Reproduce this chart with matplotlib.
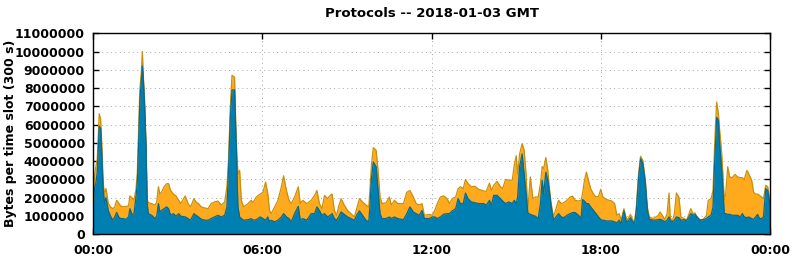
import matplotlib
matplotlib.use("Agg")
import matplotlib.pyplot as plt
from matplotlib.ticker import MultipleLocator, FuncFormatter

# time of day in hours, values in millions of bytes per 300 s slot
hours = [
    0.00, 0.05, 0.09, 0.14, 0.21, 0.26, 0.31, 0.35, 0.40, 0.45, 0.53, 0.61, 0.69, 0.76, 0.83, 0.90, 0.97,
    1.06, 1.16, 1.25, 1.30, 1.37, 1.44, 1.51, 1.56, 1.61, 1.65, 1.70, 1.74, 1.77, 1.82, 1.87, 1.91, 1.95,
    2.07, 2.19, 2.25, 2.31, 2.36, 2.42, 2.51, 2.60, 2.67, 2.74, 2.84, 2.93, 3.03, 3.10, 3.26, 3.36, 3.45,
    3.57, 3.64, 3.73, 3.83, 3.96, 4.07, 4.18, 4.30, 4.42, 4.54, 4.66, 4.74, 4.80, 4.86, 4.92, 5.01, 5.07,
    5.13, 5.19, 5.25, 5.33, 5.49, 5.60, 5.66, 5.78, 5.92, 6.02, 6.11, 6.19, 6.25, 6.31, 6.43, 6.55, 6.67,
    6.75, 6.85, 6.94, 7.02, 7.14, 7.27, 7.34, 7.43, 7.57, 7.73, 7.85, 7.93, 8.02, 8.11, 8.20, 8.31, 8.40,
    8.47, 8.55, 8.63, 8.70, 8.79, 8.90, 9.02, 9.14, 9.26, 9.34, 9.44, 9.55, 9.67, 9.77, 9.81, 9.86, 9.93,
    10.03, 10.10, 10.17, 10.24, 10.38, 10.50, 10.57, 10.68, 10.80, 11.00, 11.12, 11.23, 11.35, 11.45,
    11.56, 11.66, 11.74, 11.92, 12.02, 12.11, 12.20, 12.31, 12.43, 12.55, 12.63, 12.73, 12.85, 12.94,
    13.02, 13.12, 13.20, 13.29, 13.41, 13.53, 13.67, 13.85, 13.94, 14.05, 14.12, 14.20, 14.32, 14.44,
    14.52, 14.62, 14.74, 14.86, 14.93, 15.00, 15.05, 15.12, 15.21, 15.28, 15.35, 15.41, 15.50, 15.59,
    15.68, 15.78, 15.86, 15.92, 15.97, 16.05, 16.12, 16.17, 16.24, 16.32, 16.41, 16.50, 16.60, 16.69,
    16.80, 16.91, 17.00, 17.09, 17.21, 17.30, 17.35, 17.42, 17.49, 17.56, 17.64, 17.74, 17.83, 17.92,
    18.00, 18.07, 18.21, 18.39, 18.49, 18.57, 18.65, 18.72, 18.82, 18.89, 18.96, 19.05, 19.13, 19.20,
    19.26, 19.34, 19.41, 19.49, 19.58, 19.65, 19.72, 19.87, 20.04, 20.10, 20.18, 20.27, 20.35, 20.42,
    20.46, 20.53, 20.61, 20.68, 20.77, 20.84, 20.96, 21.04, 21.13, 21.19, 21.27, 21.34, 21.41, 21.52,
    21.63, 21.75, 21.81, 21.91, 21.98, 22.02, 22.07, 22.11, 22.17, 22.22, 22.28, 22.33, 22.38, 22.43,
    22.50, 22.57, 22.66, 22.76, 22.85, 22.95, 23.02, 23.09, 23.18, 23.25, 23.35, 23.42, 23.49, 23.56,
    23.63, 23.70, 23.77, 23.85, 23.92, 24.00,
]

# total of all protocols (top of the orange area)
total = [
    2.0, 3.3, 3.7, 4.1, 6.6, 6.3, 4.6, 2.8, 2.2, 2.5, 1.7, 1.5, 1.4, 1.5, 1.86, 1.7, 1.55,
    1.5, 1.53, 1.55, 2.1, 2.0, 1.86, 2.4, 3.3, 5.9, 7.9, 8.8, 10.0, 8.8, 7.3, 4.96, 1.9, 1.73,
    1.68, 1.6, 1.77, 2.6, 2.2, 2.3, 2.6, 2.77, 2.77, 2.4, 2.2, 2.1, 1.86, 1.68, 2.1, 1.68, 1.5,
    1.95, 1.77, 1.68, 1.5, 1.44, 1.4, 1.68, 1.77, 1.82, 1.6, 1.77, 2.6, 4.2, 7.0, 8.7, 8.6, 5.1,
    3.3, 3.5, 1.86, 1.5, 1.68, 1.86, 1.73, 2.04, 2.2, 2.3, 2.86, 2.2, 1.3, 1.13, 1.5, 1.86, 2.6,
    3.2, 2.4, 1.86, 1.68, 2.04, 2.6, 1.68, 1.86, 1.68, 1.86, 2.13, 2.4, 1.68, 1.4, 2.13, 1.95, 2.13,
    2.2, 1.3, 1.04, 1.5, 1.95, 1.6, 1.3, 1.13, 0.95, 1.4, 1.95, 1.77, 1.6, 1.5, 2.4, 3.7, 4.74,
    4.6, 3.5, 2.04, 1.68, 1.72, 2.04, 1.6, 1.86, 1.68, 1.68, 2.3, 2.4, 2.04, 1.68,
    1.6, 1.68, 1.04, 1.09, 1.04, 1.3, 1.68, 2.04, 2.1, 1.95, 1.68, 1.95, 2.04, 2.5,
    2.6, 2.5, 3.0, 2.77, 2.6, 2.63, 2.46, 2.37, 2.35, 2.8, 2.4, 2.68, 2.9, 2.6,
    2.5, 3.0, 2.96, 2.96, 3.78, 4.3, 3.3, 4.4, 4.96, 4.6, 3.3, 1.28, 3.14, 1.95,
    2.04, 2.04, 2.77, 3.7, 3.6, 4.2, 3.5, 2.6, 1.68, 0.95, 1.4, 1.86, 1.68, 1.73,
    1.86, 2.04, 2.08, 1.86, 1.82, 1.86, 2.2, 2.96, 3.4, 2.96, 2.5, 2.2, 2.04, 2.08,
    2.46, 2.04, 1.9, 1.82, 1.68, 1.04, 1.13, 0.77, 1.4, 0.95, 0.8, 1.09, 0.8, 0.68,
    1.5, 3.3, 4.27, 4.05, 2.96, 1.5, 0.95, 0.86, 1.04, 1.22, 1.04, 0.8, 1.13, 2.26,
    0.95, 0.68, 1.13, 2.26, 2.04, 0.95, 0.86, 0.77, 1.13, 1.4, 1.13, 1.17, 0.95, 0.8,
    0.82, 1.04, 1.86, 1.95, 2.4, 4.2, 6.06, 7.24, 6.6, 5.6, 4.6, 3.3, 1.86, 2.2,
    3.7, 3.14, 3.1, 3.28, 3.14, 3.1, 3.1, 3.0, 3.5, 3.3, 2.96, 2.3, 2.2, 2.2,
    2.13, 2.04, 1.95, 2.68, 2.6, 1.77,
]

# lower layer (blue area)
blue = [
    1.6, 2.6, 2.8, 3.4, 5.9, 5.8, 4.05, 2.4, 1.7, 2.0, 1.3, 1.0, 0.77, 0.95, 1.2, 0.95, 0.86,
    0.86, 0.82, 0.95, 1.4, 1.1, 1.1, 2.0, 2.8, 5.1, 7.3, 8.4, 9.2, 8.6, 7.0, 4.8, 1.7, 1.13,
    1.04, 0.86, 1.0, 1.68, 1.22, 1.31, 1.4, 1.5, 1.4, 1.04, 1.13, 0.99, 1.13, 0.99, 0.95, 0.86, 0.77,
    1.13, 1.04, 0.95, 0.82, 0.77, 0.77, 0.86, 0.95, 1.04, 0.95, 1.04, 1.5, 3.7, 6.4, 7.9, 7.9, 4.8,
    1.5, 0.95, 0.86, 0.77, 0.8, 0.86, 0.77, 0.8, 0.95, 0.86, 0.77, 0.95, 0.68, 0.77, 0.68, 0.77, 0.95,
    1.13, 0.95, 0.86, 0.68, 1.13, 1.53, 0.77, 0.86, 0.77, 1.13, 1.13, 1.5, 1.3, 1.04, 1.13, 0.95, 1.04,
    1.13, 0.86, 0.77, 0.95, 1.22, 1.09, 0.95, 0.86, 0.77, 1.04, 1.28, 1.04, 0.77, 0.68, 1.5, 2.96, 3.96,
    3.7, 2.4, 1.13, 0.86, 0.86, 0.95, 0.86, 0.95, 0.86, 0.8, 1.13, 1.5, 1.22, 1.13,
    1.04, 1.3, 0.86, 0.86, 0.95, 0.95, 0.86, 0.95, 1.1, 1.13, 1.13, 1.28, 1.4, 1.95,
    1.68, 1.68, 2.26, 1.95, 1.77, 1.73, 1.68, 1.68, 1.59, 1.86, 1.59, 2.13, 2.13, 1.95,
    1.82, 1.68, 1.77, 1.68, 1.86, 1.68, 2.04, 3.7, 4.4, 3.3, 2.2, 1.17, 1.09, 1.04,
    0.99, 0.86, 1.68, 2.96, 2.2, 3.4, 2.96, 2.4, 1.5, 0.77, 0.95, 1.13, 0.95, 0.91,
    1.04, 1.13, 1.19, 1.19, 1.04, 0.86, 1.9, 1.82, 1.68, 1.68, 1.5, 1.31, 1.13, 0.95,
    0.8, 0.77, 0.73, 0.73, 0.68, 0.62, 0.77, 0.58, 1.28, 0.77, 0.68, 0.91, 0.68, 0.62,
    1.31, 3.1, 4.14, 3.87, 2.77, 1.31, 0.82, 0.77, 0.8, 0.82, 0.77, 0.68, 0.77, 0.95,
    0.77, 0.68, 0.77, 0.95, 0.91, 0.77, 0.8, 0.73, 0.95, 1.13, 1.04, 1.09, 0.95, 0.77,
    0.8, 0.86, 0.95, 1.04, 1.5, 3.3, 5.1, 6.4, 6.24, 4.8, 3.7, 2.4, 1.13, 1.13,
    1.09, 1.09, 1.04, 1.04, 1.04, 0.95, 1.13, 0.95, 0.91, 0.95, 0.86, 0.82, 0.95, 1.09,
    0.86, 0.86, 0.95, 2.5, 2.4, 1.5,
]

total_b = [v * 1e6 for v in total]
blue_b = [v * 1e6 for v in blue]

plt.rcParams['font.family'] = ['DejaVu Sans']
plt.rcParams['font.weight'] = 'bold'

fig = plt.figure(figsize=(7.92, 2.59), dpi=100)
ax = fig.add_axes([0.1178, 0.0954, 0.8544, 0.776])

# orange = everything else, blue drawn on top
ax.fill_between(hours, 0, total_b, color='#ffa91c', lw=0, zorder=2)
ax.plot(hours, total_b, color='#c8900c', lw=0.9, zorder=3)
ax.fill_between(hours, 0, blue_b, color='#0080b2', lw=0, zorder=4)
ax.plot(hours, blue_b, color='#0a6a8e', lw=0.9, zorder=5)

ax.set_xlim(0, 24)
ax.set_ylim(0, 11e6)
ax.yaxis.set_major_locator(MultipleLocator(1e6))
ax.yaxis.set_major_formatter(FuncFormatter(lambda v, p: '%d' % round(v)))
ax.set_xticks([0, 6, 12, 18, 24])
ax.set_xticklabels(['00:00', '06:00', '12:00', '18:00', '00:00'])

ax.grid(True, color='#a8a8a8', lw=0.7, linestyle=(0, (1, 3.5)), zorder=1)
ax.tick_params(direction='in', length=4, width=1, top=True, right=True,
               labelsize=9, colors='black')
ax.tick_params(axis='y', pad=6)
ax.tick_params(axis='x', pad=7)
for s in ax.spines.values():
    s.set_linewidth(1)
    s.set_zorder(6)

fig.text(11 / 792, 0.5 * (0.0954 + 0.8714), 'Bytes per time slot (300 s)', rotation=90,
         ha='center', va='center', fontsize=9, fontweight='bold')
ax.set_title('Protocols -- 2018-01-03 GMT', fontsize=9.5, fontweight='bold', pad=12)

fig.savefig('out.png', dpi=100)
